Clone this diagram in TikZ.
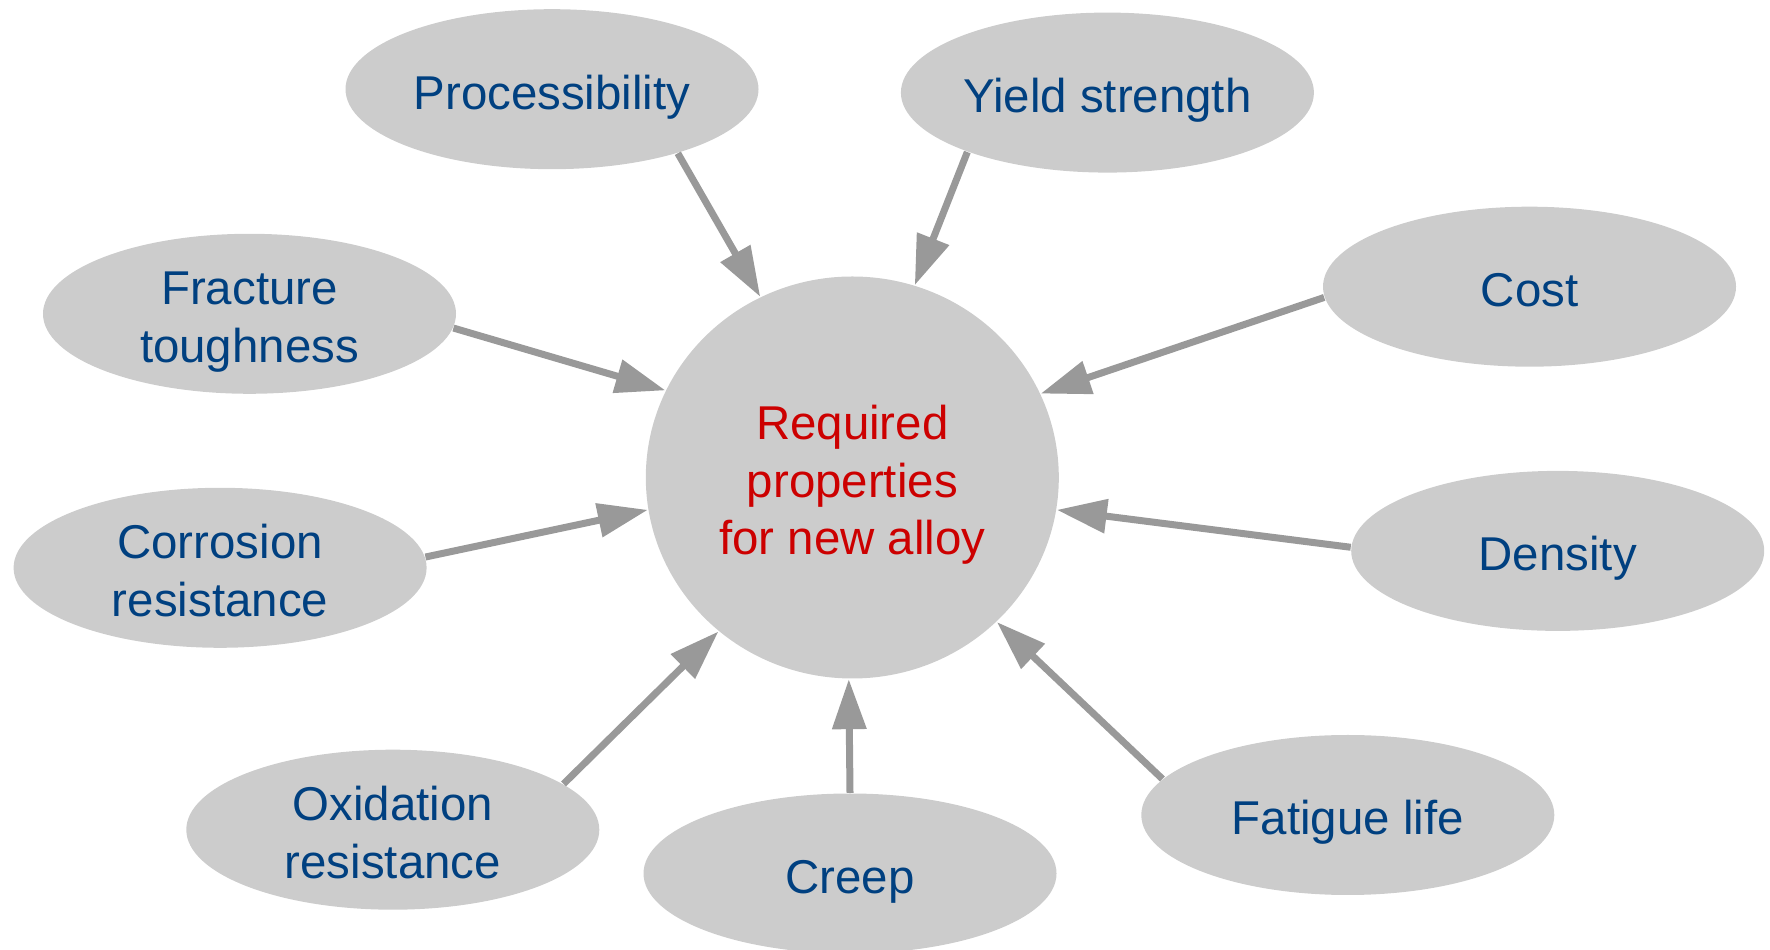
\documentclass[tikz,border=0pt]{standalone}
\usepackage{fontspec}
\setmainfont{Liberation Sans}
\usetikzlibrary{arrows.meta,shapes.geometric}
\definecolor{propblue}{HTML}{004080}
\definecolor{propred}{HTML}{CC0000}
\definecolor{ellgray}{HTML}{CCCCCC}
\definecolor{arrgray}{HTML}{999999}

\begin{document}
\begin{tikzpicture}[>={Triangle[length=0.5cm,width=0.33cm]},
    prop/.style={ellipse,fill=ellgray,minimum width=4.13cm,minimum height=1.6cm,
        inner sep=0pt,text=propblue,align=center,font=\fontsize{13.5}{16.4}\selectfont,
        execute at begin node={\rule{0pt}{14.8pt}},
        execute at end node={\rule[-3.5pt]{0pt}{3.5pt}}},
    twolines/.style={inner ysep=-2pt,execute at begin node={\rule{0pt}{31.2pt}}},
    threelines/.style={execute at begin node={\rule{0pt}{47.6pt}}},
    goal/.style={prop,threelines,minimum width=4.13cm,minimum height=4.02cm,text=propred},
    link/.style={->,draw=arrgray,line width=0.07cm}]
    \useasboundingbox (0,0) rectangle (17.7,9.5);
    %Tâm
    \node[goal] (req) at (8.523,4.725) {Required\\properties\\for new alloy};
    %Các tính chất
    \node[prop] (proc) at (5.52,8.608) {Processibility};
    \node[prop] (yield) at (11.074,8.574) {Yield strength};
    \node[prop,twolines] (frac) at (2.495,6.362) {Fracture\\toughness};
    \node[prop] (cost) at (15.295,6.633) {Cost};
    \node[prop,twolines] (corr) at (2.201,3.822) {Corrosion\\resistance};
    \node[prop] (dens) at (15.577,3.991) {Density};
    \node[prop,twolines] (oxid) at (3.928,1.203) {Oxidation\\resistance};
    \node[prop] (creep) at (8.50,0.765) {Creep};
    \node[prop] (fat) at (13.478,1.350) {Fatigue life};
    %Mũi tên
    \draw[link] (proc.-27) -- (req.117);
    \draw[link] (yield.-157) -- (req.72);
    \draw[link] (frac.-4) -- (req.155);
    \draw[link] (cost.183) -- (req.24);
    \draw[link] (corr.3) -- (req.189);
    \draw[link] (dens.179) -- (req.-9);
    \draw[link] (oxid.15) -- (req.229);
    \draw[link] (creep.90) -- (req.269.35);
    \draw[link] (fat.169) -- (req.-45);
\end{tikzpicture}
\end{document}
